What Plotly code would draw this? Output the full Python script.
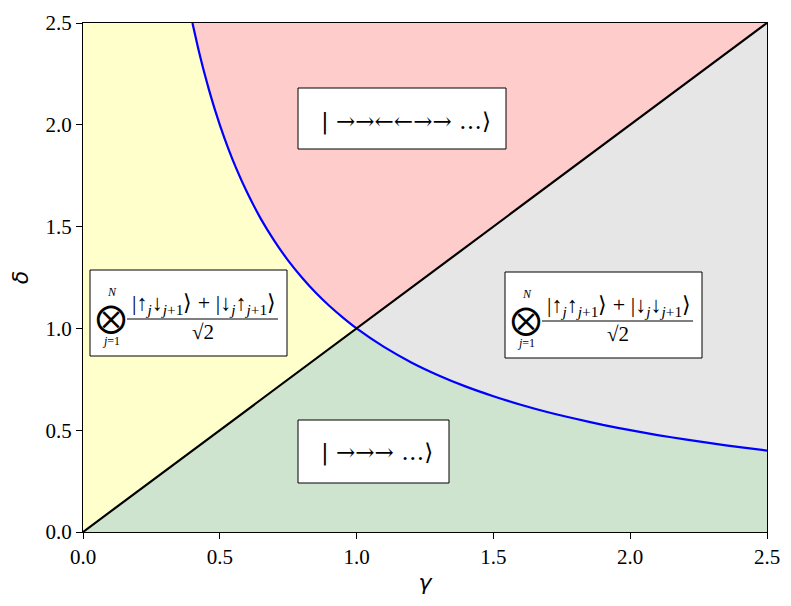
import plotly.graph_objects as go

# Digitized phase boundary (blue curve)
curve_gamma = [0.40, 0.42, 0.44, 0.46, 0.48, 0.50, 0.53, 0.56, 0.60, 0.65, 0.70, 0.75, 0.80,
               0.85, 0.90, 0.95, 1.00, 1.10, 1.20, 1.30, 1.40, 1.50, 1.60, 1.70, 1.80,
               1.90, 2.00, 2.10, 2.20, 2.30, 2.40, 2.50]
curve_delta = [2.500, 2.381, 2.273, 2.174, 2.083, 2.000, 1.887, 1.786, 1.667, 1.538, 1.429,
               1.333, 1.250, 1.176, 1.111, 1.053, 1.000, 0.909, 0.833, 0.769, 0.714, 0.667,
               0.625, 0.588, 0.556, 0.526, 0.500, 0.476, 0.455, 0.435, 0.417, 0.400]
# Diagonal boundary (black line)
line_gamma = [0.0, 1.0, 2.5]
line_delta = [0.0, 1.0, 2.5]

x_range = [0.0, 2.5]
y_range = [0.0, 2.5]
tick_vals = [0.0, 0.5, 1.0, 1.5, 2.0, 2.5]
tick_text = ["0.0", "0.5", "1.0", "1.5", "2.0", "2.5"]

label_red = "| →→←←→→ …⟩"
label_green = "| →→→ …⟩"
num_left = "|↑<sub><i>j</i></sub>↓<sub><i>j</i>+1</sub>⟩ + |↓<sub><i>j</i></sub>↑<sub><i>j</i>+1</sub>⟩"
num_right = "|↑<sub><i>j</i></sub>↑<sub><i>j</i>+1</sub>⟩ + |↓<sub><i>j</i></sub>↓<sub><i>j</i>+1</sub>⟩"
den = "√2"

# target pixel geometry of plot area in the page (page has an 8px body margin)
OFF = 8
L, R, T, B = 83, 767, 23, 532
W, H = 791 - OFF, 606 - OFF


def gx(px):
    return (px - L) / (R - L) * 2.5


def gy(py):
    return (B - py) / (B - T) * 2.5


lo = [(g, d) for g, d in zip(curve_gamma, curve_delta) if g <= 1.0]
hi = [(g, d) for g, d in zip(curve_gamma, curve_delta) if g >= 1.0]

fig = go.Figure()


def poly(xs, ys, color):
    fig.add_trace(go.Scatter(x=xs, y=ys, fill="toself", fillcolor=color, mode="lines",
                             line=dict(width=0), hoverinfo="skip", showlegend=False))


# yellow: gamma < delta < 1/gamma
xs = [line_gamma[0], line_gamma[1]] + [g for g, d in reversed(lo)] + [0.0]
ys = [line_delta[0], line_delta[1]] + [d for g, d in reversed(lo)] + [2.5]
poly(xs, ys, "rgb(255,255,204)")
# red
xs = [g for g, d in lo] + [line_gamma[2], 0.4]
ys = [d for g, d in lo] + [line_delta[2], 2.5]
poly(xs, ys, "rgb(255,204,204)")
# gray
xs = [line_gamma[1], line_gamma[2]] + [g for g, d in reversed(hi)]
ys = [line_delta[1], line_delta[2]] + [d for g, d in reversed(hi)]
poly(xs, ys, "rgb(230,230,230)")
# green
xs = [line_gamma[0], line_gamma[1]] + [g for g, d in hi] + [2.5]
ys = [line_delta[0], line_delta[1]] + [d for g, d in hi] + [0.0]
poly(xs, ys, "rgb(206,228,206)")

fig.add_trace(go.Scatter(x=curve_gamma, y=curve_delta, mode="lines",
                         line=dict(color="blue", width=2.2, shape="spline", smoothing=0.6),
                         showlegend=False, hoverinfo="skip"))
fig.add_trace(go.Scatter(x=line_gamma, y=line_delta, mode="lines",
                         line=dict(color="black", width=2.2), showlegend=False, hoverinfo="skip"))

shapes = []
annotations = []
SERIF = "Liberation Serif"


def box(x0, y0, x1, y1):
    shapes.append(dict(type="rect", xref="x", yref="y", x0=gx(x0), x1=gx(x1), y0=gy(y0), y1=gy(y1),
                       fillcolor="white", line=dict(color="black", width=1), layer="above"))


def text(px, py, t, size, family=SERIF):
    annotations.append(dict(x=gx(px), y=gy(py), xref="x", yref="y", text=t, showarrow=False,
                            font=dict(family=family, size=size, color="black"),
                            xanchor="center", yanchor="middle"))


box(298, 88, 506, 149)
text(406, 121, label_red, 23, "DejaVu Serif")
box(298, 420, 449, 483)
text(377, 452, label_green, 23, "DejaVu Serif")


def fraction_box(bx0, by0, num):
    box(bx0, by0, bx0 + 197, by0 + 86)
    text(bx0 + 21, by0 + 47, "⨂", 30)
    text(bx0 + 22, by0 + 22, "<i>N</i>", 12)
    text(bx0 + 21, by0 + 71, "<i>j</i>=1", 12)
    text(bx0 + 114, by0 + 34, num, 22)
    shapes.append(dict(type="line", xref="x", yref="y", x0=gx(bx0 + 37), x1=gx(bx0 + 188),
                       y0=gy(by0 + 49), y1=gy(by0 + 49), line=dict(color="black", width=1),
                       layer="above"))
    text(bx0 + 113, by0 + 62, den, 21)


fraction_box(90, 270, num_left)
fraction_box(505, 272, num_right)

axis_common = dict(showline=True, linecolor="black", linewidth=1.3, mirror=True,
                   ticks="outside", ticklen=6, tickwidth=1.3, tickcolor="black",
                   showgrid=False, zeroline=False, tickvals=tick_vals, ticktext=tick_text,
                   tickfont=dict(family=SERIF, size=21, color="black"))

fig.update_layout(
    width=W, height=H,
    margin=dict(l=L - OFF, r=W - (R - OFF), t=T - OFF, b=H - (B - OFF), autoexpand=False),
    plot_bgcolor="white", paper_bgcolor="white",
    xaxis=dict(range=x_range, title=dict(text="<i>γ</i>", font=dict(family="DejaVu Sans", size=22, color="black"), standoff=6), **axis_common),
    yaxis=dict(range=y_range, title=dict(text="<i>δ</i>", font=dict(family="DejaVu Sans", size=22, color="black"), standoff=12), **axis_common),
    shapes=shapes, annotations=annotations,
)

fig.write_html("out.html")
